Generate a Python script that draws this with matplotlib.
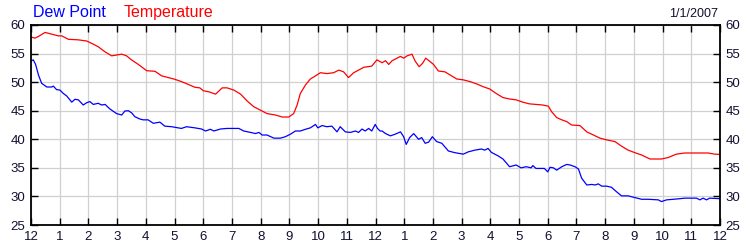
import matplotlib
matplotlib.use("Agg")
import matplotlib.pyplot as plt

plt.rcParams['font.family'] = ['Liberation Sans', 'DejaVu Sans']

# hours since midnight, temperature (F)
temp_hours = [0.0, 0.14, 0.26, 0.49, 0.72, 0.95, 1.07, 1.30, 1.65, 1.94, 2.11, 2.34, 2.58, 2.81,
              2.98, 3.16, 3.33, 3.50, 3.74, 4.03, 4.32, 4.55, 4.78, 5.01, 5.24, 5.48, 5.71, 5.88,
              6.0, 6.20, 6.43, 6.66, 6.83, 7.07, 7.30, 7.53, 7.76, 7.99, 8.22, 8.51, 8.75, 8.98,
              9.15, 9.27, 9.38, 9.56, 9.73, 9.91, 10.08, 10.31, 10.54, 10.72, 10.89, 11.06, 11.24,
              11.41, 11.59, 11.87, 12.05, 12.12, 12.23, 12.35, 12.46, 12.58, 12.75, 12.87, 12.98,
              13.10, 13.27, 13.38, 13.52, 13.64, 13.75, 13.90, 14.02, 14.19, 14.42, 14.60, 14.83,
              15.06, 15.29, 15.52, 15.75, 15.98, 16.21, 16.44, 16.67, 16.90, 17.13, 17.36, 17.59,
              17.82, 18.02, 18.14, 18.31, 18.49, 18.66, 18.83, 19.12, 19.36, 19.59, 19.82, 20.05,
              20.34, 20.57, 20.80, 21.04, 21.27, 21.56, 21.96, 22.19, 22.48, 22.77, 23.12, 23.59,
              23.82, 24.0]
temperature = [57.9, 57.7, 58.0, 58.7, 58.4, 58.1, 58.1, 57.5, 57.4, 57.2, 56.8, 56.2, 55.3, 54.6,
               54.75, 54.9, 54.6, 53.9, 53.1, 52.0, 51.9, 51.1, 50.8, 50.5, 50.1, 49.6, 49.1, 49.0,
               48.5, 48.3, 47.9, 49.0, 49.0, 48.6, 47.9, 46.7, 45.7, 45.1, 44.5, 44.25, 43.9, 43.9,
               44.5, 46.0, 48.0, 49.5, 50.55, 51.1, 51.65, 51.5, 51.65, 52.1, 51.8, 50.8, 51.65,
               52.1, 52.6, 52.8, 53.9, 53.7, 53.4, 53.75, 53.1, 53.75, 54.2, 54.5, 54.2,
               54.6, 54.9, 53.7, 52.7, 53.3, 54.2, 53.6, 53.1, 51.95, 51.8, 51.25, 50.55,
               50.4, 50.1, 49.7, 49.2, 48.8, 48.0, 47.3, 47.05, 46.9, 46.5, 46.2, 46.1,
               46.0, 45.8, 44.8, 43.8, 43.4, 43.1, 42.5, 42.4, 41.3, 40.75, 40.2, 39.9,
               39.6, 38.8, 38.1, 37.65, 37.25, 36.55, 36.55, 36.8, 37.4, 37.6, 37.6, 37.6,
               37.4, 37.35]

# hours since midnight, dew point (F)
dew_hours = [0.0, 0.08, 0.16, 0.26, 0.37, 0.55, 0.72, 0.78, 0.89, 1.01, 1.13, 1.24, 1.42, 1.53,
             1.65, 1.82, 1.94, 2.05, 2.17, 2.34, 2.46, 2.58, 2.75, 2.98, 3.16, 3.27, 3.39, 3.50,
             3.62, 3.79, 3.91, 4.08, 4.26, 4.49, 4.66, 4.90, 5.24, 5.42, 5.71, 5.94, 6.08, 6.25,
             6.37, 6.60, 6.83, 7.07, 7.24, 7.41, 7.65, 7.82, 7.94, 8.05, 8.22, 8.46, 8.69, 8.86,
             9.04, 9.21, 9.38, 9.56, 9.73, 9.91, 9.99, 10.14, 10.31, 10.48, 10.66, 10.77, 10.95,
             11.12, 11.30, 11.41, 11.53, 11.64, 11.76, 11.87, 11.99, 12.07, 12.16, 12.23, 12.35,
             12.52, 12.69, 12.87, 12.98, 13.07, 13.19, 13.33, 13.50, 13.61, 13.73, 13.85, 13.98,
             14.13, 14.31, 14.54, 14.77, 15.06, 15.23, 15.46, 15.69, 15.81, 15.92, 16.04, 16.27,
             16.44, 16.67, 16.90, 17.07, 17.25, 17.42, 17.48, 17.59, 17.88, 18.0, 18.08, 18.20,
             18.31, 18.49, 18.66, 18.78, 18.95, 19.07, 19.18, 19.36, 19.53, 19.65, 19.76, 19.88,
             20.05, 20.22, 20.40, 20.57, 20.80, 21.04, 21.27, 21.50, 21.85, 21.96, 22.14, 22.37,
             22.60, 22.77, 23.18, 23.30, 23.41, 23.53, 23.64, 24.0]
dew_point = [53.7, 53.9, 53.1, 51.25, 49.8, 49.15, 49.15, 49.3, 48.7, 48.6, 48.0, 47.6, 46.5, 47.0,
             46.9, 46.0, 46.4, 46.6, 46.1, 46.3, 46.0, 46.1, 45.3, 44.5, 44.25, 44.95, 45.0, 44.65,
             43.95, 43.55, 43.4, 43.4, 42.8, 43.0, 42.3, 42.2, 41.9, 42.2, 42.0, 41.8, 41.45, 41.75,
             41.45, 41.8, 41.9, 41.9, 41.9, 41.45, 41.2, 41.0, 41.2, 40.75, 40.75, 40.2, 40.2, 40.45,
             40.9, 41.45, 41.45, 41.75, 42.0, 42.6, 42.0, 42.4, 42.2, 42.3, 41.3, 42.2, 41.3,
             41.2, 41.45, 41.2, 41.8, 41.45, 41.9, 41.45, 42.6, 41.9, 41.45, 41.45, 41.0,
             40.6, 40.9, 41.3, 40.45, 39.1, 40.3, 41.0, 40.0, 40.3, 39.3, 39.5, 40.45,
             39.6, 39.3, 37.95, 37.65, 37.4, 37.8, 38.1, 38.3, 38.1, 38.4, 37.7, 37.1,
             36.55, 35.2, 35.5, 35.0, 35.2, 35.0, 35.4, 34.9, 34.9, 34.3, 35.1, 35.0,
             34.6, 35.2, 35.6, 35.5, 35.2, 34.8, 33.2, 32.0, 32.1, 32.0, 32.2, 31.8,
             31.8, 31.6, 30.8, 30.1, 30.1, 29.8, 29.5, 29.5, 29.4, 29.1, 29.4, 29.5,
             29.6, 29.7, 29.7, 29.4, 29.7, 29.4, 29.7, 29.6]

hour_ticks = list(range(25))
hour_labels = [str((h - 1) % 12 + 1) for h in hour_ticks]
y_ticks = [25, 30, 35, 40, 45, 50, 55, 60]
date_text = "1/1/2007"

fig = plt.figure(figsize=(7.5, 2.5), dpi=100)
ax = fig.add_axes([31 / 750, 25 / 250, 689 / 750, 200 / 250])

ax.plot(dew_hours, dew_point, color='#0000ff', lw=0.9)
ax.plot(temp_hours, temperature, color='#ff0000', lw=0.9)

ax.set_xlim(0, 24)
ax.set_ylim(25, 60)
ax.set_xticks(hour_ticks)
ax.set_xticklabels(hour_labels)
ax.set_yticks(y_ticks)
ax.grid(True, color='#d0d0d0', lw=0.9)
ax.set_axisbelow(True)
ax.tick_params(direction='in', length=5, width=1, top=True, right=True,
               labelright=True, labelsize=9.5, pad=4, labelcolor='#101030')
for s in ax.spines.values():
    s.set_linewidth(1.3)

fig.text(33 / 750, 1 - 17 / 250, "Dew Point", color='#0000ff', fontsize=11.5, va='baseline')
fig.text(124 / 750, 1 - 17 / 250, "Temperature", color='#ff0000', fontsize=11.5, va='baseline')
fig.text(718 / 750, 1 - 17 / 250, date_text, color='#101030', fontsize=9, ha='right', va='baseline')

fig.savefig("out.png", dpi=100)
